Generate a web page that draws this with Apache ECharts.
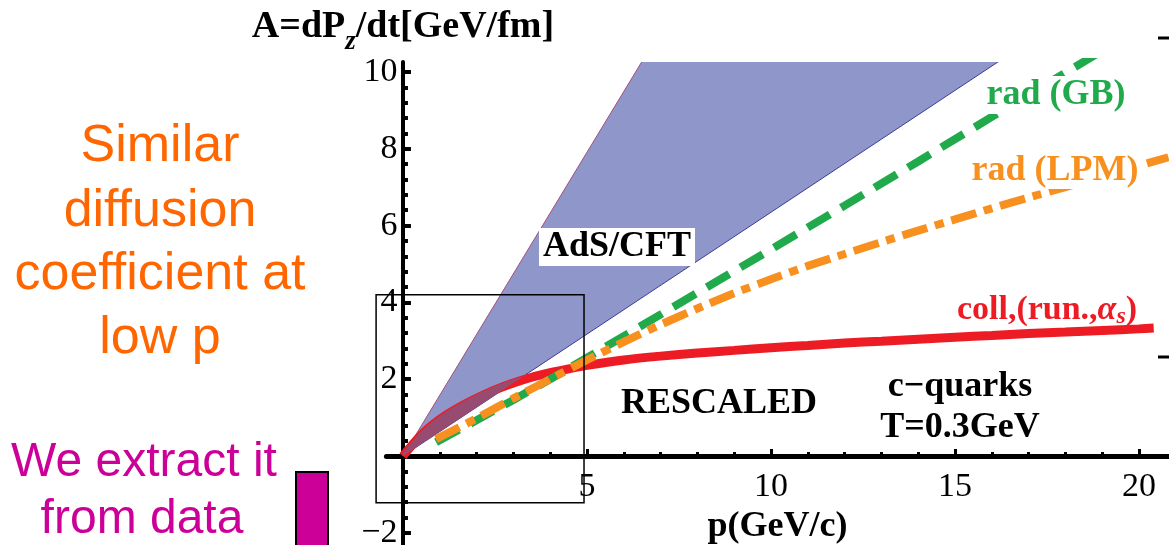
<!DOCTYPE html>
<html>
<head>
<meta charset="utf-8">
<script src="https://cdn.jsdelivr.net/npm/echarts@6/dist/echarts.min.js"></script>
<style>
html,body{margin:0;padding:0;background:#fff;}
#chart{width:1169px;height:545px;}
</style>
</head>
<body>
<div id="chart"></div>
<script>
// ---- data ----
const pColl    = [0, 0.5, 1, 1.5, 2, 2.5, 3, 3.5, 4, 4.5, 5, 6, 7, 8, 9, 10, 11, 12, 13, 14, 15, 16, 17, 18, 19, 20, 20.4];
const collRun  = [0, 0.55, 0.95, 1.25, 1.5, 1.72, 1.9, 2.05, 2.17, 2.27, 2.36, 2.5, 2.6, 2.68, 2.75, 2.82, 2.88, 2.94, 2.99, 3.04, 3.09, 3.14, 3.19, 3.23, 3.27, 3.31, 3.33];

const pGB      = [0.9, 2, 3, 4, 5, 6, 8, 10, 12, 14, 16, 18, 20];
const radGB    = [0.36, 0.93, 1.46, 2.0, 2.56, 3.12, 4.25, 5.38, 6.52, 7.67, 8.83, 9.98, 11.13];

const pLPM     = [0.9, 2, 3, 4, 5, 6, 7, 8, 9, 10, 11, 12, 13, 14, 15, 16, 17, 18, 19, 20, 20.8];
const radLPM   = [0.44, 0.98, 1.5, 2.0, 2.5, 2.97, 3.42, 3.84, 4.24, 4.6, 4.95, 5.26, 5.57, 5.87, 6.16, 6.45, 6.73, 7.0, 7.28, 7.56, 7.78];

const pAdS     = [0, 20.8];
const adsLower = [0, 13.2];
const adsUpper = [0, 32.9];

const pBand    = [0, 0.5, 1, 1.5, 2, 2.5, 3, 3.3];
const bandLow  = [0, 0.32, 0.63, 0.95, 1.27, 1.59, 1.9, 2.08];
const bandHigh = [0.08, 0.65, 1.05, 1.35, 1.6, 1.82, 2.0, 2.08];

const zoomBox  = [[-0.73, 4.2], [4.92, -1.22]];

const yLabels  = [-2, 2, 4, 6, 8, 10];
const yMinor   = [-2, -1.6, -1.2, -0.8, -0.4, 0.4, 0.8, 1.2, 1.6, 2.4, 2.8, 3.2, 3.6, 4.4, 4.8, 5.2, 5.6, 6.4, 6.8, 7.2, 7.6, 8.4, 8.8, 9.2, 9.6];
const xLabels  = [5, 10, 15, 20];
const xMinor   = [1, 2, 3, 4, 6, 7, 8, 9, 11, 12, 13, 14, 16, 17, 18, 19];

// ---- build ----
const pairs = (xs, ys) => xs.map((x, i) => [x, ys[i]]);

const SERIF = '"Liberation Serif", "Times New Roman", serif';
const SANS = '"Liberation Sans", Arial, sans-serif';

const chart = echarts.init(document.getElementById('chart'), null, {renderer: 'canvas'});

function adsRender(params, api) {
  const upper = pAdS.map((p, i) => api.coord([p, adsUpper[i]]));
  const lower = pAdS.map((p, i) => api.coord([p, adsLower[i]]));
  const poly = upper.concat(lower.slice().reverse());
  return {type: 'group', children: [
    {type: 'polygon', shape: {points: poly}, style: {fill: '#8f96c9', stroke: 'none'}},
    {type: 'polyline', shape: {points: upper}, style: {stroke: '#a0507a', lineWidth: 1, fill: 'none'}},
    {type: 'polyline', shape: {points: lower}, style: {stroke: '#3c3c9c', lineWidth: 1, fill: 'none'}}
  ]};
}
function bandRender(params, api) {
  const hi = pBand.map((p, i) => api.coord([p, bandHigh[i]]));
  const lo = pBand.map((p, i) => api.coord([p, bandLow[i]]));
  return {type: 'polygon', shape: {points: hi.concat(lo.reverse()), smooth: 0.2},
          style: {fill: '#974b70', stroke: 'none'}};
}
function boxRender(params, api) {
  const a = api.coord(zoomBox[0]);
  const b = api.coord(zoomBox[1]);
  return {type: 'rect', shape: {x: a[0], y: a[1], width: b[0] - a[0], height: b[1] - a[1]},
          style: {fill: 'none', stroke: '#000', lineWidth: 1.5}};
}

const option = {
  animation: false,
  backgroundColor: '#fff',
  grid: {left: 386.4, right: 0.6, top: 62, bottom: 0.7, containLabel: false, outerBoundsMode: 'none'},
  xAxis: [{
    type: 'value', min: -0.45, max: 20.8,
    axisLine: {show: true, onZero: true, lineStyle: {color: '#000', width: 5}},
    axisTick: {show: true, inside: true, length: 7, lineStyle: {color: '#000', width: 3}, customValues: xLabels},
    axisLabel: {show: true, customValues: xLabels, margin: -74, color: '#000', fontFamily: SERIF, fontSize: 34},
    splitLine: {show: false},
    name: 'p(GeV/c)', nameLocation: 'middle', nameGap: -40,
    nameTextStyle: {color: '#000', fontFamily: SERIF, fontWeight: 'bold', fontSize: 36}
  }, {
    type: 'value', min: -0.45, max: 20.8, position: 'bottom',
    axisLine: {show: false, onZero: true},
    axisTick: {show: true, inside: true, length: 4, lineStyle: {color: '#000', width: 3}, customValues: xMinor},
    axisLabel: {show: false},
    splitLine: {show: false}
  }],
  yAxis: [{
    type: 'value', min: -2.3, max: 10.26,
    axisLine: {show: true, onZero: true, lineStyle: {color: '#000', width: 4}},
    axisTick: {show: true, inside: true, length: 8, lineStyle: {color: '#000', width: 4}, customValues: yLabels},
    axisLabel: {show: true, customValues: yLabels, margin: -11, color: '#000', fontFamily: SERIF, fontSize: 34,
      formatter: v => v < 0 ? '\u2212' + Math.abs(v) : String(v)},
    splitLine: {show: false},
    name: '{a|A=dP}{z|z}{a|/dt[GeV/fm]}', nameLocation: 'end', nameGap: 12,
    nameTextStyle: {
      align: 'center', verticalAlign: 'bottom',
      rich: {
        a: {fontFamily: SERIF, fontWeight: 'bold', fontSize: 38, color: '#000', lineHeight: 44},
        z: {fontFamily: SERIF, fontWeight: 'bold', fontStyle: 'italic', fontSize: 27, color: '#000', lineHeight: 44, verticalAlign: 'bottom', padding: [0, 0, -6, 0]}
      }
    }
  }, {
    type: 'value', min: -2.3, max: 10.26, position: 'left',
    axisLine: {show: false, onZero: true},
    axisTick: {show: true, inside: true, length: 5, lineStyle: {color: '#000', width: 4}, customValues: yMinor},
    axisLabel: {show: false},
    splitLine: {show: false}
  }],
  series: [
    {type: 'custom', name: 'AdS/CFT', data: [[0, 0]], clip: true, renderItem: adsRender, z: 2, silent: true},
    {type: 'line', name: 'coll', data: pairs(pColl, collRun), symbol: 'none', smooth: 0.3,
     lineStyle: {color: '#ed1c24', width: 9}, z: 3},
    {type: 'custom', name: 'overlap', data: [[0, 0]], clip: true, renderItem: bandRender, z: 4, silent: true},
    {type: 'line', name: 'radGB', data: pairs(pGB, radGB), symbol: 'none',
     lineStyle: {color: '#21aa4b', width: 8, type: [26, 13], cap: 'butt'}, z: 5},
    {type: 'line', name: 'radLPM', data: pairs(pLPM, radLPM), symbol: 'none', smooth: 0.2,
     lineStyle: {color: '#f7901e', width: 8, type: [26, 8, 9, 8], cap: 'butt'}, z: 6},
    {type: 'custom', name: 'box', data: [[0, 0]], clip: false, renderItem: boxRender, z: 7, silent: true}
  ],
  graphic: [
    {type: 'text', x: 617, y: 247, z: 100, style: {text: 'AdS/CFT', align: 'center', verticalAlign: 'middle', font: 'bold 36px ' + SERIF, fill: '#000', backgroundColor: '#fff', padding: [2, 4, 0, 4]}},
    {type: 'text', x: 1056, y: 95, z: 100, style: {text: 'rad (GB)', align: 'center', verticalAlign: 'middle', font: 'bold 36px ' + SERIF, fill: '#21aa4b', backgroundColor: '#fff', padding: [2, 3, 0, 3]}},
    {type: 'text', x: 1055, y: 171, z: 100, style: {text: 'rad (LPM)', align: 'center', verticalAlign: 'middle', font: 'bold 36px ' + SERIF, fill: '#f7901e', backgroundColor: '#fff', padding: [0, 3, 0, 3]}},
    {type: 'text', x: 1047, y: 310, z: 100, style: {text: '{a|coll,(run.,}{g|\u03B1}{s|s}{a|)}', align: 'center', verticalAlign: 'middle',
      rich: {
        a: {font: 'bold 34px ' + SERIF, fill: '#ed1c24', lineHeight: 38},
        g: {font: 'italic bold 34px ' + SERIF, fill: '#ed1c24', lineHeight: 38},
        s: {font: 'italic bold 24px ' + SERIF, fill: '#ed1c24', lineHeight: 38, verticalAlign: 'bottom'}
      }}},
    {type: 'text', x: 719, y: 404, z: 100, style: {text: 'RESCALED', align: 'center', verticalAlign: 'middle', font: 'bold 36px ' + SERIF, fill: '#000'}},
    {type: 'text', x: 960, y: 387, z: 100, style: {text: 'c\u2212quarks', align: 'center', verticalAlign: 'middle', font: 'bold 36px ' + SERIF, fill: '#000'}},
    {type: 'text', x: 960, y: 428, z: 100, style: {text: 'T=0.3GeV', align: 'center', verticalAlign: 'middle', font: 'bold 36px ' + SERIF, fill: '#000'}},

    {type: 'text', x: 160, y: 147, style: {text: 'Similar', align: 'center', verticalAlign: 'middle', font: '52px ' + SANS, fill: '#ff6600'}},
    {type: 'text', x: 160, y: 212, style: {text: 'diffusion', align: 'center', verticalAlign: 'middle', font: '52px ' + SANS, fill: '#ff6600'}},
    {type: 'text', x: 160, y: 275, style: {text: 'coefficient at', align: 'center', verticalAlign: 'middle', font: '52px ' + SANS, fill: '#ff6600'}},
    {type: 'text', x: 160, y: 339, style: {text: 'low p', align: 'center', verticalAlign: 'middle', font: '52px ' + SANS, fill: '#ff6600'}},
    {type: 'text', x: 144, y: 463, style: {text: 'We extract it', align: 'center', verticalAlign: 'middle', font: '48px ' + SANS, fill: '#cc0099'}},
    {type: 'text', x: 142, y: 520, style: {text: 'from data', align: 'center', verticalAlign: 'middle', font: '48px ' + SANS, fill: '#cc0099'}},
    {type: 'rect', shape: {x: 296, y: 472, width: 32, height: 80}, style: {fill: '#cc0099', stroke: '#000', lineWidth: 2}},

    {type: 'line', shape: {x1: 1158, y1: 38, x2: 1169, y2: 38}, style: {stroke: '#000', lineWidth: 3}},
    {type: 'line', shape: {x1: 1158, y1: 357, x2: 1169, y2: 357}, style: {stroke: '#000', lineWidth: 3}}
  ]
};
chart.setOption(option);
</script>
</body>
</html>
